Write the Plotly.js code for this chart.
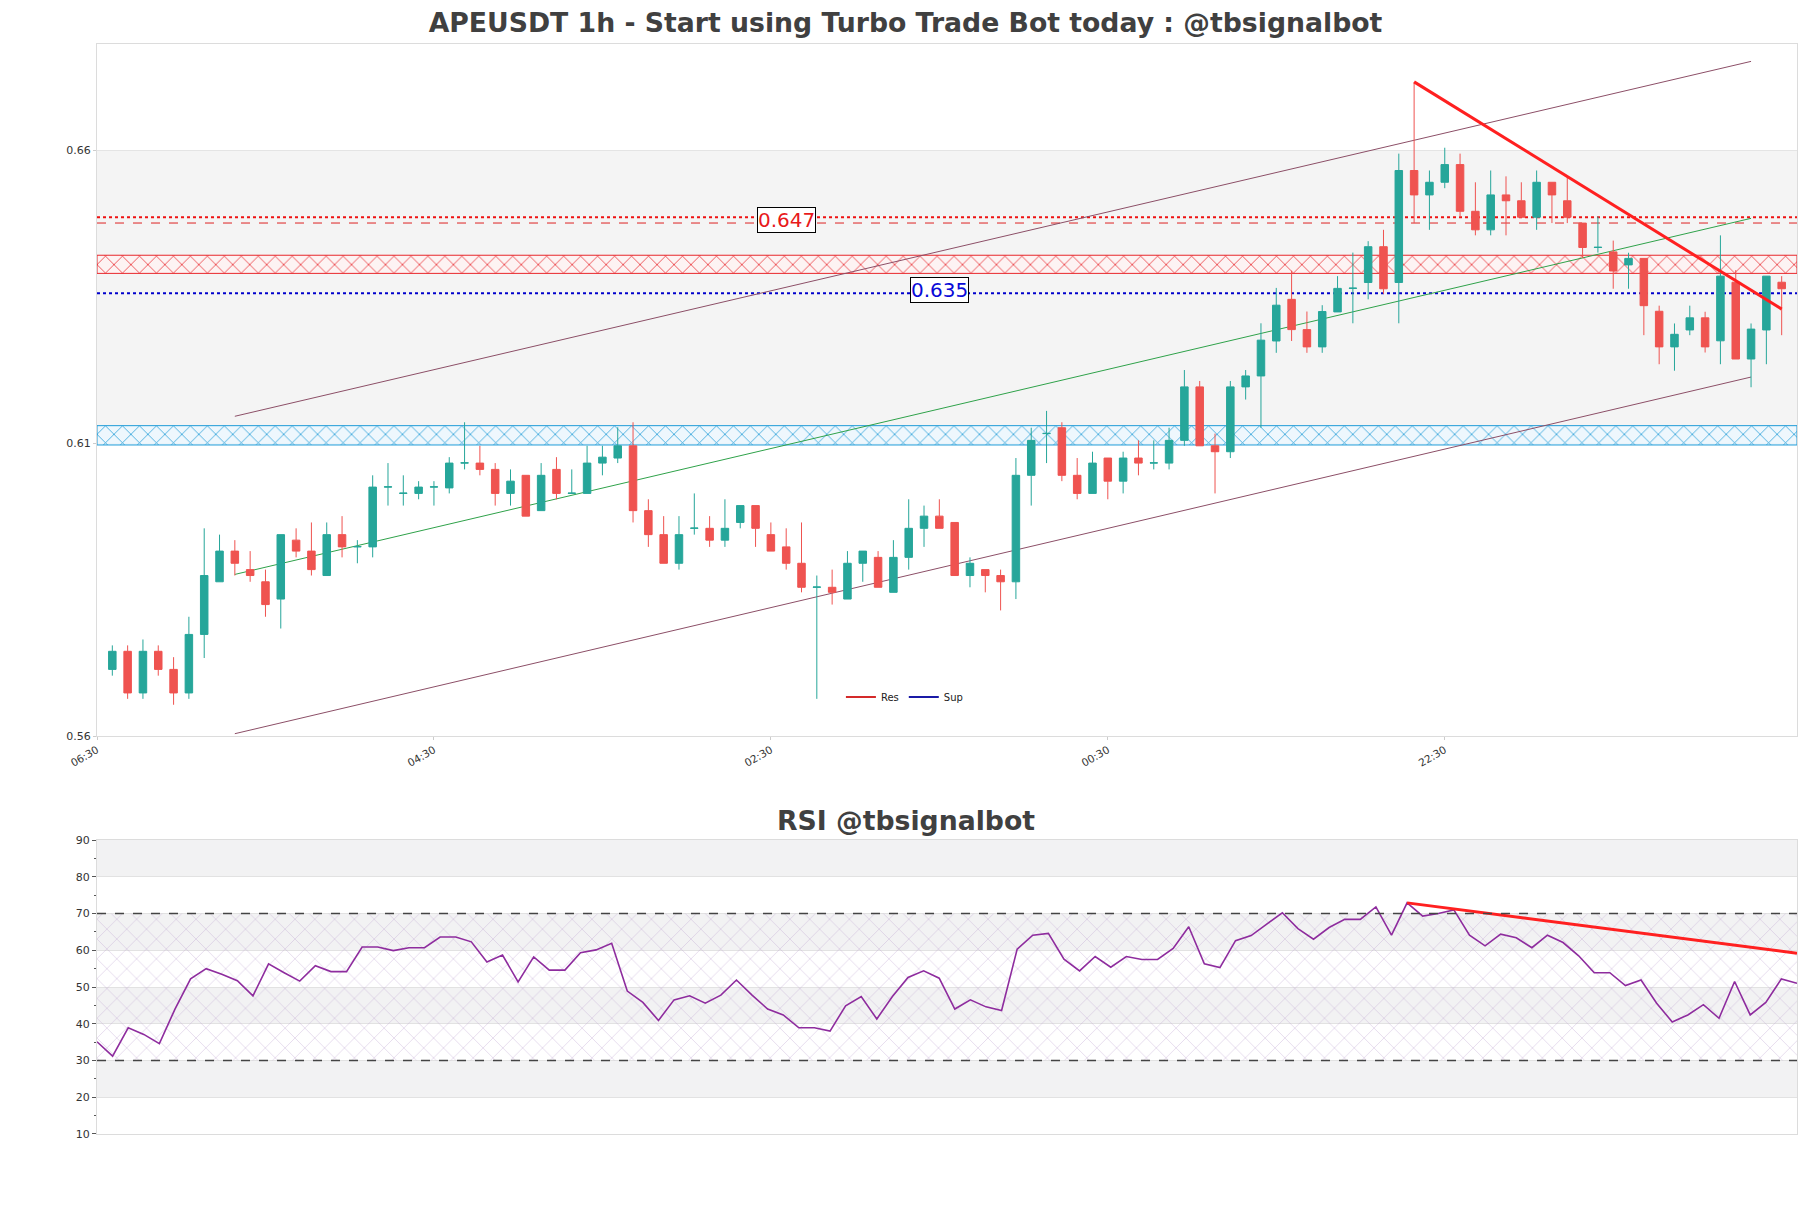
<!DOCTYPE html>
<html><head><meta charset="utf-8">
<script src="https://cdn.plot.ly/plotly-3.0.1.min.js"></script>
<style>html,body{margin:0;padding:0;background:#fff}#chart{width:1811px;height:1208px}</style>
</head><body><div id="chart"></div>
<script>
// ---- data ----
const tickPos = [0, 22, 44, 66, 88];
const tickLabels = ['06:30', '04:30', '02:30', '00:30', '22:30'];

const openP = [0.57138,0.57447,0.56736,0.57447,0.57138,0.56736,0.57735,0.58634,0.59158,0.58842,
0.58634,0.58339,0.59345,0.59158,0.58741,0.59439,0.59230,0.59230,0.60251,0.60143,
0.60143,0.60251,0.60237,0.60661,0.60661,0.60553,0.60143,0.60452,0.59849,0.60553,
0.60143,0.60143,0.60661,0.60747,0.60956,0.59849,0.59439,0.58950,0.59547,0.59547,
0.59345,0.59647,0.59935,0.59439,0.59230,0.58950,0.58540,0.58540,0.58339,0.58950,
0.59051,0.58454,0.59051,0.59547,0.59755,0.59647,0.58741,0.58842,0.58741,0.58634,
0.60452,0.61164,0.61265,0.60452,0.60143,0.60747,0.60352,0.60747,0.60661,0.60661,
0.61049,0.61962,0.60956,0.60855,0.61962,0.62149,0.62746,0.63457,0.62940,0.62645,
0.63242,0.63644,0.63745,0.64356,0.63745,0.65657,0.65240,0.65456,0.65758,0.64960,
0.64644,0.65240,0.65140,0.64859,0.65456,0.65140,0.64759,0.64342,0.64267,0.64045,
0.64156,0.63253,0.62645,0.62934,0.63141,0.62749,0.63749,0.62438,0.62934,0.63749];

const highP = [0.57548,0.57548,0.57649,0.57548,0.57347,0.58037,0.59547,0.59439,0.59345,0.59158,
0.58842,0.59439,0.59547,0.59647,0.59647,0.59755,0.59345,0.60452,0.60661,0.60452,
0.60352,0.60352,0.60762,0.61358,0.60956,0.60661,0.60553,0.60452,0.60661,0.60762,
0.60553,0.60956,0.60956,0.61272,0.61358,0.60043,0.59755,0.59755,0.60143,0.59755,
0.60043,0.59935,0.59935,0.59647,0.59547,0.59647,0.58741,0.58842,0.59158,0.59158,
0.59158,0.59345,0.60043,0.59935,0.60043,0.59647,0.59051,0.58842,0.58842,0.60747,
0.61265,0.61552,0.61358,0.60747,0.60855,0.60747,0.60855,0.61049,0.61049,0.61265,
0.62250,0.62063,0.61164,0.62063,0.62250,0.63048,0.63652,0.63946,0.63249,0.63357,
0.63853,0.64255,0.64450,0.64644,0.65945,0.67167,0.65657,0.66046,0.65945,0.65456,
0.65657,0.65557,0.65456,0.65657,0.65456,0.65557,0.64759,0.64870,0.64460,0.64253,
0.64156,0.63349,0.63045,0.63349,0.63245,0.64549,0.63956,0.63045,0.63853,0.63853];

const lowP = [0.57031,0.56635,0.56635,0.57031,0.56534,0.56635,0.57332,0.58634,0.58741,0.58634,
0.58037,0.57836,0.59051,0.58741,0.58741,0.59051,0.58950,0.59051,0.59935,0.59935,
0.60043,0.59935,0.60143,0.60553,0.60452,0.59935,0.59935,0.59755,0.59849,0.60043,
0.60143,0.60143,0.60452,0.60661,0.59647,0.59230,0.58950,0.58842,0.59439,0.59230,
0.59230,0.59547,0.59230,0.59158,0.58842,0.58454,0.56635,0.58245,0.58339,0.58634,
0.58540,0.58454,0.58842,0.59230,0.59547,0.58741,0.58540,0.58454,0.58145,0.58339,
0.59935,0.60661,0.60352,0.60043,0.60143,0.60043,0.60143,0.60452,0.60553,0.60553,
0.60956,0.60956,0.60143,0.60747,0.61746,0.61265,0.62544,0.62746,0.62544,0.62544,
0.63242,0.63048,0.63457,0.63551,0.63048,0.64759,0.64644,0.65355,0.64859,0.64550,
0.64550,0.64550,0.64859,0.64644,0.64759,0.64759,0.64162,0.64255,0.63638,0.63638,
0.62845,0.62349,0.62238,0.62845,0.62549,0.62349,0.62438,0.61956,0.62349,0.62845];

const closeP = [0.57447,0.56736,0.57447,0.57138,0.56736,0.57735,0.58741,0.59158,0.58950,0.58741,
0.58245,0.59439,0.59158,0.58842,0.59439,0.59230,0.59235,0.60251,0.60255,0.60148,
0.60251,0.60255,0.60661,0.60665,0.60553,0.60143,0.60352,0.59755,0.60452,0.60143,
0.60148,0.60661,0.60762,0.60956,0.59849,0.59439,0.58950,0.59439,0.59551,0.59345,
0.59547,0.59935,0.59547,0.59158,0.58950,0.58540,0.58545,0.58454,0.58950,0.59158,
0.58540,0.59051,0.59547,0.59755,0.59547,0.58741,0.58950,0.58741,0.58634,0.60452,
0.61049,0.61168,0.60452,0.60143,0.60661,0.60352,0.60747,0.60661,0.60665,0.61049,
0.61962,0.60956,0.60855,0.61962,0.62149,0.62760,0.63357,0.62940,0.62645,0.63249,
0.63644,0.63648,0.64356,0.63637,0.65657,0.65240,0.65456,0.65758,0.64960,0.64644,
0.65240,0.65140,0.64859,0.65456,0.65240,0.64859,0.64342,0.64346,0.63941,0.64156,
0.63349,0.62645,0.62860,0.63141,0.62645,0.63853,0.62438,0.62949,0.63853,0.63638];

const rsiValues = [35.1,31.2,38.9,37.1,34.6,44.0,52.2,55.0,53.5,51.7,
47.6,56.3,53.9,51.6,55.8,54.2,54.2,60.9,60.9,59.9,
60.7,60.7,63.6,63.6,62.3,56.8,58.7,51.4,58.2,54.6,
54.6,59.3,60.1,61.9,48.9,45.8,40.9,46.5,47.6,45.6,
47.8,51.9,47.8,44.0,42.4,38.9,38.9,38.0,44.9,47.4,
41.3,47.4,52.6,54.4,52.4,44.0,46.5,44.6,43.6,60.3,
64.1,64.6,57.6,54.4,58.3,55.4,58.3,57.5,57.5,60.5,
66.4,56.3,55.3,62.6,64.0,67.1,70.2,65.9,63.0,66.2,
68.4,68.4,71.8,64.1,72.9,69.3,70.0,71.0,64.1,61.2,
64.4,63.4,60.7,64.1,62.1,58.5,53.9,53.9,50.4,51.9,
45.6,40.5,42.4,45.2,41.5,51.5,42.4,45.8,52.2,51.0];

const resLevelDotted = 0.6486;
const resLevelDashed = 0.6476;
const supLevel = 0.6356;
const resZone = [0.6390, 0.6421];
const supZone = [0.6097, 0.6130];
const resLabel = '0.647';
const supLabel = '0.635';

const channelX = [9, 108];
const channelUpper = [0.6146, 0.6752];
const channelMid = [0.5876, 0.6484];
const channelLower = [0.5604, 0.6213];
const trendX = [86, 110];
const trendY = [0.6717, 0.6329];
const rsiTrendX = [85, 110];
const rsiTrendY = [72.9, 59.2];

const rsiLevels = [30, 70];
const priceTicks = [0.56, 0.61, 0.66];

// ---- build ----
const idx = openP.map((_, k) => k + 1);
const N = idx.length;
const xMin = 0, xMax = N + 1;
const yRange = [0.56, 0.67817];

function band(lo, hi, lineColor, fg, bg) {
  return {
    type: 'scatter', x: [xMin, xMax, xMax, xMin, xMin], y: [lo, lo, hi, hi, lo],
    xaxis: 'x', yaxis: 'y', mode: 'lines', fill: 'toself',
    line: {color: lineColor, width: 1},
    fillcolor: bg,
    fillpattern: {shape: 'x', fgcolor: fg, bgcolor: bg, size: 12, solidity: 0.12},
    showlegend: false, hoverinfo: 'skip'
  };
}

const traces = [
  band(resZone[0], resZone[1], '#e8262b', '#e8262b', 'rgba(255,242,242,0.8)'),
  band(supZone[0], supZone[1], '#1e9bd7', '#1e9bd7', 'rgba(236,248,255,0.8)'),
  // RSI hatch zone 30-70
  {type: 'scatter', x: [1, N, N, 1, 1], y: [rsiLevels[0], rsiLevels[0], rsiLevels[1], rsiLevels[1], rsiLevels[0]],
   xaxis: 'x2', yaxis: 'y2', mode: 'lines', fill: 'toself', line: {width: 0, color: 'rgba(0,0,0,0)'},
   fillcolor: 'rgba(0,0,0,0)',
   fillpattern: {shape: 'x', fgcolor: 'rgba(185,160,205,0.7)', bgcolor: 'rgba(0,0,0,0)', size: 14, solidity: 0.07},
   showlegend: false, hoverinfo: 'skip'},
  {type: 'scatter', x: channelX, y: channelUpper, mode: 'lines', line: {color: '#8c4f67', width: 1}, xaxis: 'x', yaxis: 'y', showlegend: false, hoverinfo: 'skip'},
  {type: 'scatter', x: channelX, y: channelLower, mode: 'lines', line: {color: '#8c4f67', width: 1}, xaxis: 'x', yaxis: 'y', showlegend: false, hoverinfo: 'skip'},
  {type: 'scatter', x: channelX, y: channelMid, mode: 'lines', line: {color: '#2fa24a', width: 1}, xaxis: 'x', yaxis: 'y', showlegend: false, hoverinfo: 'skip'},
  {type: 'candlestick', x: idx, open: openP, high: highP, low: lowP, close: closeP, xaxis: 'x', yaxis: 'y3',
   increasing: {line: {color: '#26a69a', width: 1}, fillcolor: '#26a69a'},
   decreasing: {line: {color: '#ef5350', width: 1}, fillcolor: '#ef5350'},
   whiskerwidth: 0, showlegend: false, hoverinfo: 'skip'},
  {type: 'scatter', x: trendX, y: trendY, mode: 'lines', line: {color: '#ff2020', width: 3}, xaxis: 'x', yaxis: 'y3', showlegend: false, hoverinfo: 'skip'},
  {type: 'scatter', x: idx, y: rsiValues, mode: 'lines', line: {color: '#8e2c9e', width: 1.6}, xaxis: 'x2', yaxis: 'y2', showlegend: false, hoverinfo: 'skip'},
  {type: 'scatter', x: rsiTrendX, y: rsiTrendY, mode: 'lines', line: {color: '#ff2020', width: 3}, xaxis: 'x2', yaxis: 'y2', showlegend: false, hoverinfo: 'skip'},
  {type: 'scatter', x: [null], y: [null], mode: 'lines', name: 'Res', line: {color: '#d42a2a', width: 2}, xaxis: 'x', yaxis: 'y'},
  {type: 'scatter', x: [null], y: [null], mode: 'lines', name: 'Sup', line: {color: '#1a1aa6', width: 2}, xaxis: 'x', yaxis: 'y'}
];

const shapes = [
  {type: 'rect', xref: 'x domain', yref: 'y', x0: 0, x1: 1, y0: 0.61, y1: 0.66, fillcolor: '#f4f4f4', line: {width: 0}, layer: 'below'},
  {type: 'line', xref: 'x domain', yref: 'y', x0: 0, x1: 1, y0: resLevelDotted, y1: resLevelDotted, line: {color: '#ee1111', width: 2, dash: 'dot'}, layer: 'below'},
  {type: 'line', xref: 'x domain', yref: 'y', x0: 0, x1: 1, y0: resLevelDashed, y1: resLevelDashed, line: {color: '#dd2222', width: 1, dash: 'dash'}, layer: 'below'},
  {type: 'line', xref: 'x domain', yref: 'y', x0: 0, x1: 1, y0: supLevel, y1: supLevel, line: {color: '#0000cc', width: 2, dash: 'dot'}, layer: 'below'}
];
[[80, 90], [60, 70], [40, 50], [20, 30]].forEach(b => {
  shapes.push({type: 'rect', xref: 'x2 domain', yref: 'y2', x0: 0, x1: 1, y0: b[0], y1: b[1], fillcolor: '#f2f2f3', line: {width: 0}, layer: 'below'});
});
rsiLevels.forEach(v => {
  shapes.push({type: 'line', xref: 'x2 domain', yref: 'y2', x0: 0, x1: 1, y0: v, y1: v, line: {color: '#444', width: 1.4, dash: 'dash'}, layer: 'above'});
});

const layout = {
  width: 1811, height: 1208,
  margin: {l: 97, r: 14, t: 44, b: 74},
  paper_bgcolor: '#ffffff', plot_bgcolor: '#ffffff',
  font: {family: 'DejaVu Sans', size: 10, color: '#333'},
  title: {text: 'APEUSDT 1h - Start using Turbo Trade Bot today : @tbsignalbot',
          font: {family: 'DejaVu Sans', size: 26.7, color: '#404040', weight: 'bold'},
          x: 0.5, xref: 'container', xanchor: 'center', y: 1 - 23 / 1208, yref: 'container', yanchor: 'middle'},
  showlegend: true,
  legend: {orientation: 'h', x: 0.4376, y: 0.401, xanchor: 'left', yanchor: 'middle', font: {size: 10, color: '#222'}, bgcolor: 'rgba(0,0,0,0)', itemwidth: 30},
  xaxis: {domain: [0, 1], anchor: 'y', range: [xMin, xMax], tickvals: tickPos, ticktext: tickLabels, tickangle: -30,
          showgrid: false, zeroline: false, showline: true, mirror: true, linecolor: '#dcdcdc', linewidth: 1,
          ticks: 'outside', ticklen: 3, tickcolor: '#cccccc', tickfont: {size: 10.5, color: '#333'}, rangeslider: {visible: false}, fixedrange: true},
  yaxis: {domain: [0.3651, 1], anchor: 'x', range: yRange, tickvals: priceTicks, ticktext: priceTicks.map(v => v.toFixed(2)),
          showgrid: true, gridcolor: '#e4e4e4', zeroline: false, showline: true, mirror: true, linecolor: '#dcdcdc',
          ticks: 'outside', ticklen: 3, tickcolor: '#cccccc', tickfont: {size: 11, color: '#333'}, fixedrange: true},
  yaxis3: {overlaying: 'y', anchor: 'x', range: yRange, visible: false, showgrid: false, zeroline: false, fixedrange: true},
  xaxis2: {domain: [0, 1], anchor: 'y2', range: [1, N], showticklabels: false, showgrid: false, zeroline: false,
           showline: true, mirror: true, linecolor: '#dcdcdc', ticks: '', fixedrange: true},
  yaxis2: {domain: [0, 0.2697], anchor: 'x2', range: [10, 90], tick0: 10, dtick: 10, showgrid: true, gridcolor: '#e2e2e2',
           zeroline: false, showline: true, mirror: true, linecolor: '#dcdcdc', ticks: 'outside', ticklen: 4, tickcolor: '#555',
           minor: {dtick: 5, ticks: 'outside', ticklen: 2, tickcolor: '#555', showgrid: false},
           tickfont: {size: 11, color: '#333'}, fixedrange: true},
  shapes: shapes,
  annotations: [
    {x: 45, y: resLevelDashed, xref: 'x', yref: 'y', yshift: 3, text: resLabel, showarrow: false,
     font: {family: 'DejaVu Sans', size: 20, color: '#e8191b'}, bgcolor: '#ffffff', bordercolor: '#000', borderwidth: 1, borderpad: 0},
    {x: 55, y: supLevel, xref: 'x', yref: 'y', yshift: 3, text: supLabel, showarrow: false,
     font: {family: 'DejaVu Sans', size: 20, color: '#0a0ad8'}, bgcolor: '#ffffff', bordercolor: '#000', borderwidth: 1, borderpad: 0},
    {x: 0.4759, y: 0.288, xref: 'paper', yref: 'paper', text: 'RSI @tbsignalbot', showarrow: false, xanchor: 'center', yanchor: 'middle',
     font: {family: 'DejaVu Sans', size: 26.7, color: '#404040', weight: 'bold'}}
  ]
};

Plotly.newPlot('chart', traces, layout, {displayModeBar: false, staticPlot: true});
</script>
</body></html>
